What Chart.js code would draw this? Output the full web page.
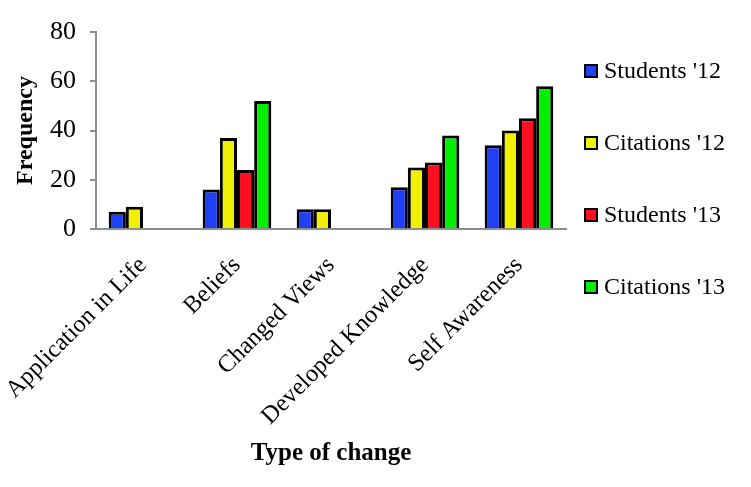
<!DOCTYPE html>
<html>
<head>
<meta charset="utf-8">
<script src="https://cdn.jsdelivr.net/npm/chart.js@4/dist/chart.umd.min.js"></script>
<style>
  html, body { margin: 0; padding: 0; background: #fff; }
  #wrap { width: 751px; height: 487px; }
</style>
</head>
<body>
<div id="wrap"><canvas id="mainChart" width="751" height="487"></canvas></div>
<script>
const CATEGORIES = ['Application in Life', 'Beliefs', 'Changed Views', 'Developed Knowledge', 'Self Awareness'];
const STUDENTS_12 = [7, 16, 8, 17, 34];
const CITATIONS_12 = [9, 37, 8, 25, 40];
const STUDENTS_13 = [null, 24, null, 27, 45];
const CITATIONS_13 = [null, 52, null, 38, 58];
const Y_TICKS = [0, 20, 40, 60, 80];

const FONT = '"Liberation Serif", "Times New Roman", serif';

function makeSet(label, data, color) {
    return {
        label: label,
        data: data,
        backgroundColor: color,
        borderColor: '#000',
        borderWidth: 3,
        borderSkipped: 'bottom',
        categoryPercentage: 0.73,
        barPercentage: 1.0
    };
}

// legend drawn by hand: wide vertical gaps but tight to the plot
const sideLegend = {
    id: 'sideLegend',
    afterDraw(chart) {
        const ctx = chart.ctx;
        const area = chart.chartArea;
        ctx.save();
        ctx.font = '24px ' + FONT;
        ctx.textBaseline = 'middle';
        ctx.textAlign = 'left';
        chart.data.datasets.forEach((ds, i) => {
            const y = area.top + 39 + i * 72;
            const x = area.right + 19;
            ctx.fillStyle = ds.backgroundColor;
            ctx.fillRect(x, y - 6, 12, 12);
            ctx.lineWidth = 2;
            ctx.strokeStyle = '#000';
            ctx.strokeRect(x, y - 6, 12, 12);
            ctx.fillStyle = '#000';
            ctx.fillText(ds.label, x + 19, y + 1);
        });
        ctx.restore();
    }
};

function main() {
    Chart.defaults.font.family = FONT;
    Chart.defaults.color = '#000';
    const CTX = document.getElementById('mainChart').getContext('2d');
    return new Chart(CTX, {
        type: 'bar',
        data: {
            labels: CATEGORIES,
            datasets: [
                makeSet("Students '12", STUDENTS_12, '#2040f4'),
                makeSet("Citations '12", CITATIONS_12, '#f0f000'),
                makeSet("Students '13", STUDENTS_13, '#ff1020'),
                makeSet("Citations '13", CITATIONS_13, '#00f000')
            ]
        },
        options: {
            responsive: false,
            animation: false,
            layout: { padding: { top: 32, right: 185, bottom: 18, left: 11 } },
            scales: {
                y: {
                    min: 0,
                    max: 80,
                    afterBuildTicks: (axis) => { axis.ticks = Y_TICKS.map(v => ({ value: v })); },
                    afterFit: (scale) => { scale.width = 85; },
                    ticks: { font: { size: 26 }, padding: 14 },
                    grid: { display: true, drawOnChartArea: false, drawTicks: true, tickLength: 6, color: '#8a9090', lineWidth: 2 },
                    border: { display: true, color: '#8a9090', width: 2 },
                    title: { display: true, text: 'Frequency', font: { size: 24, weight: 'bold' }, padding: { top: 0, bottom: 10 } }
                },
                x: {
                    afterFit: (scale) => {
                        // long rotated labels: fixed band under the plot, no extra left room
                        scale.height = 240;
                        scale.paddingLeft = 0;
                    },
                    ticks: { font: { size: 24.5 }, maxRotation: 45, minRotation: 45, padding: 14 },
                    grid: { display: false },
                    border: { display: true, color: '#8a9090', width: 2 },
                    title: { display: true, text: 'Type of change', font: { size: 25, weight: 'bold' }, padding: { top: 0, bottom: 0 } }
                }
            },
            plugins: {
                legend: { display: false },
                tooltip: { enabled: false }
            }
        },
        plugins: [sideLegend]
    });
}

main();
</script>
</body>
</html>
